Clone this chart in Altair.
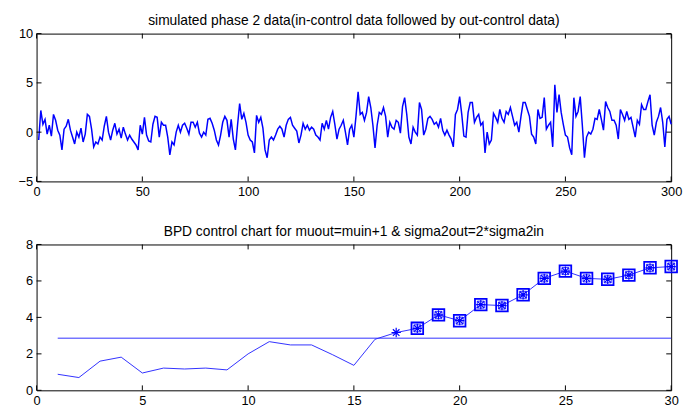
import altair as alt
import pandas as pd

# ---------------- data ----------------
phase2_values = [
    -0.8, 2.2, 0.8, 1.3, -0.2, 0.7, -0.4, 1.8, 1.2, 0.2,
    -0.3, -1.8, 0.3, 0.6, 1.3, 0.2, -0.5, -1.2, 0.0, -0.5,
    0.4, -1.0, -0.2, 1.8, 1.6, 0.3, -1.5, -1.0, -1.2, -0.5,
    -0.8, 0.6, 1.6, 0.0, -0.8, 0.2, 0.9, -0.2, 0.3, -0.6,
    0.5, -0.2, -0.8, -0.3, -0.7, -1.0, -1.3, -1.8, 0.7, -0.2,
    1.5, -0.3, -0.9, -1.0, 0.8, 1.6, 1.5, -0.5, 1.0, 0.7,
    0.7, -0.5, -2.3, -1.0, -1.3, 0.0, 0.7, 0.0, 0.7, 0.9,
    0.4, -0.2, 1.0, 1.0, 0.5, 1.0, -0.1, -0.5, 0.0, -0.3,
    1.3, 1.4, 0.9, 0.2, -0.8, -1.3, -0.3, 1.0, 1.6, 1.2,
    -0.5, 1.3, -0.7, -1.8, 0.7, 2.9, 1.3, 1.9, 1.0, -0.3,
    -0.8, -1.0, -2.1, 1.7, 1.0, 1.5, 0.4, -1.8, -2.6, -0.8,
    -0.5, -0.8, -0.3, 0.3, 0.6, 0.3, -0.5, 0.7, 1.3, 1.5,
    0.7, 0.4, 0.1, -1.1, -0.3, 0.9, 0.3, 0.7, 0.2, 0.5,
    0.3, -0.3, -0.5, -0.8, 0.9, 0.3, 1.2, 0.3, 1.5, 2.1,
    0.8, -0.7, 0.3, 0.7, 1.2, 0.0, -1.3, 0.3, 0.7, -0.5,
    1.6, 4.1, 1.8, 2.0, 1.2, 2.0, 3.6, 2.5, 0.7, -1.6,
    0.7, 2.0, 1.8, 2.5, 1.6, -0.5, 1.0, 0.5, 0.3, 1.2,
    1.0, -0.1, 2.6, 3.5, 1.8, -0.5, -1.2, 0.5, 0.0, -0.3,
    3.0, 2.3, -0.3, 0.3, 1.4, 1.6, 1.3, 0.8, 1.0, 0.5,
    1.4, 0.2, -0.3, 0.2, -0.3, -0.7, -1.5, 1.8, 2.3, 3.6,
    1.8, -0.4, -0.5, 2.0, 3.0, 3.0, 1.0, 1.5, 1.8, 0.7,
    1.0, -2.1, 0.0, -1.2, -0.8, 1.9, 1.5, 1.0, 2.3, 1.4,
    1.0, 2.1, 1.8, 2.5, 1.6, 0.7, 1.0, 0.0, 1.6, 3.0,
    3.0, 2.3, 1.6, -0.2, -0.5, -1.2, 2.3, 1.4, 1.5, 3.5,
    0.3, 0.7, 1.0, -1.5, 4.8, 2.0, 3.8, 2.0, 0.8, -0.3,
    -0.5, -1.6, -2.3, 3.5, 1.6, 2.1, 3.6, 0.7, -2.6, -0.5,
    0.0, -0.2, 0.3, 1.4, 1.3, 2.3, 1.3, 0.2, 3.1, 2.5,
    2.1, 1.2, 1.2, 0.7, -0.7, 2.3, 1.8, 1.2, 2.1, 1.3,
    1.5, 0.5, -0.5, 1.2, 0.8, 2.8, 2.3, 2.3, 3.1, 3.8,
    0.7, -0.3, 1.0, 1.6, 2.5, 1.0, -1.5, 1.3, 1.6, 0.8,
]
phase2_index = list(range(1, len(phase2_values) + 1))

bpd_samples = list(range(1, 31))
bpd_values = [0.88, 0.70, 1.60, 1.82, 0.95, 1.22, 1.17, 1.22, 1.12, 2.00,
              2.67, 2.49, 2.49, 1.95, 1.37, 2.80, 3.17, 3.40, 4.14, 3.82,
              4.70, 4.65, 5.24, 6.14, 6.54, 6.14, 6.09, 6.32, 6.72, 6.79]
control_limit = 2.86
star_from = 17
square_from = 18

top_xticks = [0, 50, 100, 150, 200, 250, 300]
top_yticks = [-5, 0, 5, 10]
bot_xticks = [0, 5, 10, 15, 20, 25, 30]
bot_yticks = [0, 2, 4, 6, 8]

top_title = "simulated phase 2 data(in-control data followed by out-control data)"
bot_title = "BPD control chart for muout=muin+1 & sigma2out=2*sigma2in"

# ---------------- style ----------------
FONT = "Liberation Sans"
BLUE = "#0000ff"
W = 644
H1 = 150
H2 = 148
TICK = 5


def title(text):
    return alt.TitleParams(text, font=FONT, fontSize=14, fontWeight="normal",
                           color="#000000", offset=0, anchor="middle")


def axis(vals, pad=4):
    return alt.Axis(values=vals, title=None, labelFont=FONT, labelFontSize=13,
                    labelColor="#000000", ticks=False, domain=False, grid=False,
                    labelPadding=pad, labelOverlap=False, labelFlush=False)


def panel_layers(xticks, yticks, xscale, yscale, h, xpad):
    """Encoders for x/y plus inward tick layers, all sharing one axis definition."""
    ax_x = axis(xticks, xpad)
    ax_y = axis(yticks)

    def X(field):
        return alt.X(field, scale=xscale, axis=ax_x)

    def Y(field):
        return alt.Y(field, scale=yscale, axis=ax_y)

    dfx = pd.DataFrame({"v": xticks})
    dfy = pd.DataFrame({"v": yticks})
    base_x = alt.Chart(dfx).mark_rule(color="black", strokeWidth=1)
    base_y = alt.Chart(dfy).mark_rule(color="black", strokeWidth=1)
    ticks = [
        base_x.encode(x=X("v:Q"), y=alt.value(h), y2=alt.value(h - TICK)),
        base_x.encode(x=X("v:Q"), y=alt.value(0), y2=alt.value(TICK)),
        base_y.encode(y=Y("v:Q"), x=alt.value(0), x2=alt.value(TICK)),
        base_y.encode(y=Y("v:Q"), x=alt.value(W - TICK), x2=alt.value(W)),
    ]
    return X, Y, ticks


# ---------------- top panel ----------------
top_df = pd.DataFrame({"i": phase2_index, "v": phase2_values})
tx = alt.Scale(domain=[0, 300], nice=False, zero=False)
ty = alt.Scale(domain=[-5, 10], nice=False, zero=False)
TX, TY, top_ticks = panel_layers(top_xticks, top_yticks, tx, ty, H1, 4)

top_line = alt.Chart(top_df).mark_line(color=BLUE, strokeWidth=1.5).encode(
    x=TX("i:Q"), y=TY("v:Q"))
top = alt.layer(top_line, *top_ticks).properties(
    width=W, height=H1, title=title(top_title))

# ---------------- bottom panel ----------------
bot_df = pd.DataFrame({"s": bpd_samples, "v": bpd_values})
ucl_df = pd.DataFrame({"s": [bpd_samples[0]], "s2": [bpd_samples[-1]], "v": [control_limit]})
bx = alt.Scale(domain=[0, 30], nice=False, zero=False)
by = alt.Scale(domain=[0, 8], nice=False, zero=False)
BX, BY, bot_ticks = panel_layers(bot_xticks, bot_yticks, bx, by, H2, 4)

bot_line = alt.Chart(bot_df).mark_line(color="#3030ff", strokeWidth=1).encode(
    x=BX("s:Q"), y=BY("v:Q"))
ucl_rule = alt.Chart(ucl_df).mark_rule(color="#3030ff", strokeWidth=1).encode(
    x=BX("s:Q"), x2="s2:Q", y=BY("v:Q"))

star_path = "M-1,0L1,0M0,-1L0,1M-0.7,-0.7L0.7,0.7M-0.7,0.7L0.7,-0.7"
stars = alt.Chart(bot_df[bot_df.s >= star_from]).mark_point(
    shape=star_path, filled=False, color=BLUE, size=90, strokeWidth=1.2, opacity=1).encode(
    x=BX("s:Q"), y=BY("v:Q"))
squares = alt.Chart(bot_df[bot_df.s >= square_from]).mark_point(
    shape="square", filled=False, color=BLUE, size=140, strokeWidth=1.8, opacity=1).encode(
    x=BX("s:Q"), y=BY("v:Q"))
inner = alt.Chart(bot_df[bot_df.s >= square_from]).mark_point(
    shape="square", filled=False, color=BLUE, size=50, strokeWidth=0.8, opacity=1).encode(
    x=BX("s:Q"), y=BY("v:Q"))

bottom = alt.layer(bot_line, ucl_rule, squares, inner, stars, *bot_ticks).properties(
    width=W, height=H2, title=title(bot_title))

chart = alt.vconcat(top, bottom, spacing=25).properties(
    background="white",
    padding={"left": 9, "top": 2, "right": 0, "bottom": 0},
).configure_view(stroke="black", strokeWidth=1)

chart.save("out.html", embed_options={"renderer": "svg", "actions": False})
